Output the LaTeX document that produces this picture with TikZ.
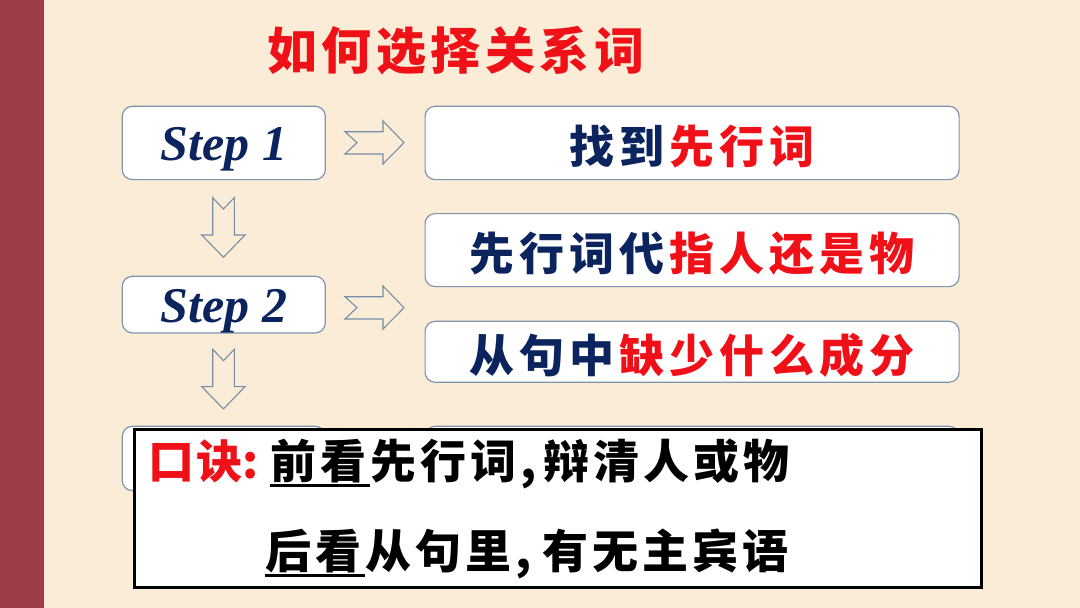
\documentclass[tikz,border=0pt]{standalone}
\usepackage{fontspec}
\newfontfamily\cjk{Noto Sans CJK SC}
\newfontfamily\stepfont{Liberation Serif}
\definecolor{bgcol}{RGB}{250,236,215}
\definecolor{barcol}{RGB}{155,60,72}
\definecolor{navy}{RGB}{12,36,94}
\definecolor{redtxt}{RGB}{240,16,24}
\definecolor{bordercol}{RGB}{128,148,172}
\definecolor{arrowcol}{RGB}{120,142,168}
\makeatletter
\newcommand\spc[2]{\@tfor\spcch:=#2\do{\spcch\hspace{#1}}}
\makeatother
\newcommand\ulin[1]{\setbox0\hbox{#1}\rlap{\rule[-8pt]{\wd0}{2.2pt}}\box0}
\tikzset{
  stepbox/.style={draw=bordercol, line width=1.2pt, fill=white, rounded corners=10pt,
    inner sep=0pt, anchor=north west, minimum width=203pt, text height=35pt, text depth=0pt,
    font=\stepfont\bfseries\itshape\fontsize{50pt}{50pt}\selectfont, text=navy},
  infobox/.style={draw=bordercol, line width=1.2pt, fill=white, rounded corners=10pt,
    inner sep=0pt, anchor=north west, minimum width=534pt, text height=40.5pt, text depth=0pt,
    font=\cjk\bfseries\fontsize{45pt}{45pt}\selectfont, text=navy},
  arrowline/.style={draw=arrowcol, line width=1.1pt, fill=bgcol, line join=miter},
  rarrow/.pic={\path[arrowline] (0,0) -- (38,0) -- (38,-10.7) -- (59,11) -- (38,32.3) -- (38,22.3) -- (0,22.3) -- (12,11) -- cycle;},
  darrow/.pic={\path[arrowline] (0,0) -- (10.8,11.3) -- (21.6,0) -- (21.6,37.3) -- (32.3,37.3) -- (10.8,59.6) -- (-11,37.3) -- (0,37.3) -- cycle;},
  cjktext/.style={inner sep=0pt, anchor=base west, font=\cjk\bfseries\fontsize{46pt}{46pt}\selectfont},
}
\begin{document}
\begin{tikzpicture}[x=1pt, y=-1pt]
\useasboundingbox (0,0) rectangle (1080,608);
\fill[bgcol] (0,0) rectangle (1080,608);
\fill[barcol] (0,0) rectangle (43.5,608);

% title
\node[cjktext, font=\cjk\bfseries\fontsize{50pt}{50pt}\selectfont, text=redtxt] (title) at (267,69.5) {\spc{4.5pt}{如何选择关系}词};

% step boxes
\node[stepbox, minimum height=73.3pt] (s1) at (121.7,105.7) {Step 1};
\node[stepbox, minimum height=56.6pt] (s2) at (121.7,275.7) {Step 2};
\node[stepbox, minimum height=64.3pt] (s3) at (121.7,425.7) {};

% info boxes
\node[infobox, minimum height=73.3pt] (b1) at (424.5,105.7) {\spc{5pt}{找到}{\color{redtxt}\spc{5pt}{先行}词}};
\node[infobox, minimum height=73pt] (b2) at (424.5,213) {\spc{5pt}{先行词代}{\color{redtxt}\spc{5pt}{指人还是}物}};
\node[infobox, minimum height=61pt] (b3) at (424.5,320.7) {\spc{5pt}{从句中}{\color{redtxt}\spc{5pt}{缺少什么成}分}};
\node[infobox, minimum height=64.3pt] (b4) at (424.5,425.7) {};

% arrows
\pic at (345,131.7) {rarrow};
\pic at (345,296.7) {rarrow};
\pic at (212.7,197.7) {darrow};
\pic at (212.7,349.3) {darrow};

% mnemonic box
\node[draw=black, line width=2.5pt, fill=white, anchor=north west, inner sep=0pt,
  minimum width=847pt, minimum height=158pt] (mbox) at (133,428) {};
\node[cjktext] (line1) at (148,478.5) {\makebox[122pt][l]{\color{redtxt}口\hspace{2pt}诀:}\ulin{\spc{4pt}{前看}}\spc{4pt}{先行词}\makebox[23pt][l]{,}\spc{4pt}{辩清人或}物};
\node[cjktext] (line2) at (265,568.5) {\ulin{\spc{4pt}{后看}}\spc{4pt}{从句里}\makebox[27pt][l]{,}\spc{4pt}{有无主宾}语};
\end{tikzpicture}
\end{document}
